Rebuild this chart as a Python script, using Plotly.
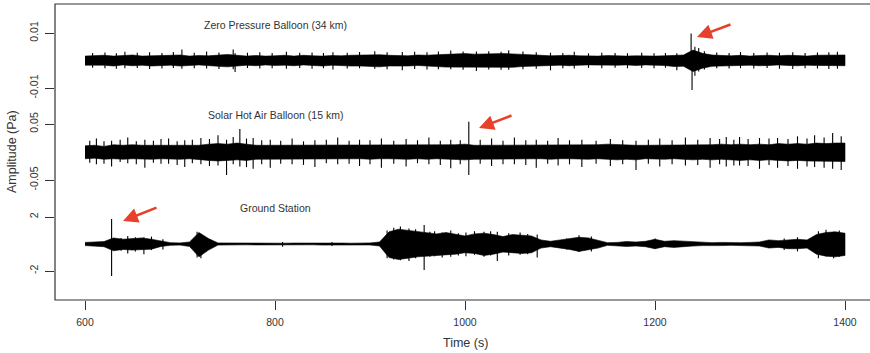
import plotly.graph_objects as go

# ---------------- data ----------------
times = list(range(600, 1401, 10))  # envelope sample times (s)

# Zero Pressure Balloon (34 km): envelope in mPa
zp_upper_mpa = [1.6, 1.7, 1.9, 1.6, 1.8, 2.0, 1.6, 1.7, 1.9, 2.1,
                2.0, 1.6, 1.8, 1.7, 2.0, 2.2, 1.9, 1.6, 1.8, 1.6,
                1.7, 1.9, 1.6, 1.9, 1.7, 1.6, 1.8, 1.7, 1.9, 2.0,
                2.2, 2.1, 1.9, 1.9, 1.7, 2.0, 1.9, 2.1, 2.3, 2.4,
                2.5, 2.3, 2.4, 2.5, 2.5, 2.4, 2.3, 2.1, 1.9, 1.7,
                1.8, 1.9, 1.7, 1.6, 1.6, 1.8, 1.6, 1.6, 1.7, 1.6,
                1.6, 1.7, 1.9, 2.0, 3.8, 2.6, 2.0, 1.8, 1.7, 1.9,
                1.6, 1.8, 1.9, 1.7, 1.9, 1.8, 1.6, 1.9, 1.9, 2.0,
                2.0]
zp_lower_mpa = [-1.7, -1.8, -1.7, -2.0, -1.6, -1.9, -1.7, -2.0, -1.8, -1.7,
                -2.0, -1.8, -1.6, -1.9, -2.1, -2.3, -2.0, -1.7, -1.9, -1.6,
                -1.8, -1.7, -1.9, -1.6, -1.8, -2.0, -1.7, -1.9, -2.0, -2.0,
                -2.1, -2.3, -2.0, -1.9, -2.0, -1.8, -2.0, -2.2, -2.4, -2.3,
                -2.5, -2.5, -2.3, -2.4, -2.5, -2.5, -2.2, -2.0, -1.9, -1.8,
                -1.7, -1.9, -1.7, -1.6, -1.7, -1.6, -1.7, -1.6, -1.8, -1.6,
                -1.7, -1.8, -2.2, -2.1, -4.0, -2.8, -2.1, -1.9, -1.7, -1.8,
                -1.7, -1.9, -1.8, -1.6, -1.8, -1.9, -1.7, -1.8, -2.0, -1.9,
                -1.9]
zp_spike_t = [608, 621, 633, 642, 655, 668, 681, 693, 702, 715,
              728, 741, 756, 758, 771, 784, 797, 812, 826, 839,
              851, 861, 876, 889, 905, 918, 934, 947, 960, 972,
              985, 998, 1012, 1025, 1038, 1046, 1061, 1075, 1090, 1103,
              1115, 1130, 1144, 1158, 1171, 1186, 1199, 1211, 1223, 1238,
              1239, 1242, 1246, 1252, 1265, 1278, 1290, 1304, 1318, 1331,
              1345, 1358, 1371, 1383, 1392]
zp_spike_hi_mpa = [2.7, 2.9, 2.6, 3.2, 2.8, 3.0, 2.7, 3.1, 4.0, 2.8,
                   3.3, 2.9, 4.0, 2.6, 2.8, 3.0, 2.7, 3.2, 2.8, 2.9,
                   2.7, 3.0, 2.8, 3.1, 3.4, 3.0, 3.1, 3.2, 3.0, 3.3,
                   3.6, 3.3, 3.3, 3.4, 3.2, 3.7, 3.3, 3.0, 2.8, 2.7,
                   3.2, 2.6, 2.8, 2.7, 2.6, 2.8, 2.6, 2.7, 2.6, 9.8,
                   3.0, 5.0, 4.5, 3.4, 2.9, 2.7, 3.1, 2.7, 2.9, 2.8,
                   3.0, 2.7, 2.9, 3.0, 3.2]
zp_spike_lo_mpa = [-2.6, -2.8, -3.0, -2.8, -2.7, -3.1, -2.9, -2.7, -3.0, -2.8,
                   -2.9, -3.1, -3.2, -4.2, -2.7, -2.9, -2.8, -3.0, -2.7, -3.0,
                   -2.8, -3.3, -2.9, -2.8, -3.0, -3.2, -3.5, -3.1, -3.3, -3.2,
                   -3.2, -3.4, -3.8, -3.3, -3.4, -3.4, -3.2, -3.0, -3.6, -2.8,
                   -2.9, -2.7, -2.8, -2.6, -2.8, -2.7, -2.8, -2.6, -3.5, -3.0,
                   -10.7, -5.5, -4.0, -3.3, -2.8, -2.9, -2.8, -2.9, -2.7, -3.0,
                   -3.1, -2.8, -2.9, -3.1, -3.0]

# Solar Hot Air Balloon (15 km): envelope in mPa
sh_upper_mpa = [11, 12, 10, 13, 12, 13, 12, 12, 13, 12,
                12, 13, 12, 14, 15, 14, 16, 14, 12, 12,
                12, 12, 13, 12, 12, 12, 13, 12, 12, 13,
                12, 12, 12, 13, 12, 12, 12, 13, 12, 13,
                14, 12, 12, 12, 13, 12, 12, 12, 13, 12,
                12, 12, 13, 12, 13, 14, 13, 12, 12, 12,
                12, 12, 13, 12, 13, 12, 13, 14, 13, 14,
                13, 14, 13, 15, 14, 15, 14, 16, 15, 16,
                16]
sh_lower_mpa = [-12, -11, -13, -12, -13, -12, -12, -13, -12, -12,
                -13, -12, -13, -15, -16, -15, -14, -15, -13, -12,
                -12, -12, -12, -13, -12, -12, -12, -13, -12, -12,
                -13, -12, -12, -12, -13, -12, -13, -12, -12, -13,
                -14, -13, -12, -12, -12, -13, -12, -12, -12, -13,
                -12, -12, -12, -13, -12, -13, -14, -13, -14, -12,
                -12, -13, -12, -13, -14, -13, -14, -13, -14, -15,
                -14, -15, -14, -15, -16, -15, -16, -17, -16, -17,
                -17]
sh_spike_t = [605, 612, 620, 628, 637, 645, 654, 663, 672, 680,
              688, 697, 705, 713, 722, 731, 740, 749, 756, 763,
              770, 777, 786, 795, 806, 818, 830, 842, 854, 866,
              878, 889, 900, 912, 925, 938, 950, 962, 974, 985,
              995, 1004, 1016, 1028, 1040, 1052, 1064, 1075, 1087, 1098,
              1110, 1123, 1138, 1153, 1166, 1180, 1193, 1205, 1218, 1232,
              1245, 1258, 1268, 1275, 1283, 1289, 1298, 1310, 1320, 1329,
              1340, 1350, 1360, 1368, 1378, 1387, 1396]
sh_spike_hi_mpa = [20, 24, 19, 20, 22, 26, 19, 22, 20, 23,
                   24, 19, 21, 22, 25, 23, 30, 22, 27, 41,
                   24, 25, 21, 22, 20, 24, 19, 21, 22, 26,
                   20, 22, 21, 24, 20, 23, 21, 26, 20, 22,
                   21, 54, 22, 24, 20, 26, 21, 22, 20, 25,
                   21, 22, 20, 23, 21, 20, 22, 24, 21, 26,
                   22, 25, 23, 27, 22, 27, 23, 25, 24, 25,
                   23, 28, 24, 30, 26, 34, 28]
sh_spike_lo_mpa = [-19, -22, -21, -26, -18, -20, -22, -28, -19, -21,
                   -21, -23, -27, -20, -22, -25, -24, -41, -22, -26,
                   -27, -30, -22, -28, -21, -22, -23, -27, -20, -22,
                   -21, -25, -22, -28, -21, -26, -20, -22, -23, -29,
                   -22, -41, -21, -25, -22, -22, -23, -28, -21, -24,
                   -22, -27, -21, -25, -22, -32, -21, -26, -22, -24,
                   -23, -28, -22, -26, -24, -24, -25, -30, -23, -28,
                   -25, -30, -26, -27, -28, -30, -32]

# Ground Station: envelope in Pa
gs_upper = [0.12, 0.15, 0.18, 0.45, 0.35, 0.40, 0.45, 0.35, 0.20, 0.10,
            0.08, 0.15, 0.85, 0.40, 0.08, 0.07, 0.08, 0.07, 0.06, 0.08,
            0.07, 0.06, 0.07, 0.08, 0.06, 0.07, 0.08, 0.07, 0.06, 0.07,
            0.08, 0.15, 0.90, 1.10, 1.00, 0.95, 0.80, 0.75, 0.85, 0.70,
            0.60, 0.75, 0.80, 0.70, 0.55, 0.70, 0.65, 0.60, 0.30, 0.20,
            0.30, 0.40, 0.50, 0.45, 0.30, 0.10, 0.12, 0.18, 0.15, 0.20,
            0.35, 0.20, 0.25, 0.20, 0.15, 0.12, 0.10, 0.12, 0.10, 0.10,
            0.12, 0.15, 0.30, 0.25, 0.30, 0.35, 0.30, 0.70, 0.85, 0.90,
            0.80]
gs_lower = [-0.12, -0.14, -0.20, -0.50, -0.40, -0.45, -0.40, -0.38, -0.18, -0.10,
            -0.08, -0.18, -0.95, -0.45, -0.08, -0.07, -0.08, -0.06, -0.07, -0.08,
            -0.06, -0.07, -0.08, -0.07, -0.06, -0.08, -0.07, -0.06, -0.07, -0.08,
            -0.07, -0.15, -1.00, -1.15, -1.05, -0.95, -0.85, -0.80, -0.80, -0.75,
            -0.65, -0.70, -0.85, -0.75, -0.60, -0.65, -0.70, -0.65, -0.30, -0.20,
            -0.30, -0.40, -0.55, -0.45, -0.30, -0.10, -0.12, -0.18, -0.15, -0.20,
            -0.35, -0.20, -0.25, -0.20, -0.15, -0.12, -0.10, -0.12, -0.10, -0.10,
            -0.12, -0.15, -0.30, -0.25, -0.35, -0.35, -0.30, -0.75, -0.90, -0.95,
            -0.85]
gs_spike_t = [628, 638, 645, 653, 662, 670, 682, 718, 722, 808, 860,
              918, 925, 932, 941, 948, 957, 963, 968, 976, 985, 993, 1001, 1010,
              1020, 1027, 1034, 1046, 1058, 1066, 1076, 1107, 1120, 1133, 1200,
              1336, 1350, 1372, 1380, 1388, 1394]
gs_spike_hi = [1.85, 0.45, 0.60, 0.50, 0.50, 0.55, 0.35, 0.90, 0.70, 0.15, 0.15,
               1.00, 1.20, 1.30, 1.15, 1.10, 1.40, 0.90, 0.95, 0.85, 1.00, 0.80, 0.85, 0.95,
               0.90, 0.95, 0.90, 0.80, 0.85, 0.75, 0.70, 0.40, 0.65, 0.55, 0.40,
               0.40, 0.50, 0.95, 1.05, 0.90, 1.00]
gs_spike_lo = [-2.37, -0.50, -0.70, -0.55, -0.75, -0.45, -0.40, -1.00, -1.05, -0.20, -0.15,
               -1.05, -1.15, -1.20, -1.25, -1.05, -1.93, -0.95, -0.90, -1.00, -0.95, -0.85, -0.90, -0.80,
               -0.95, -0.85, -1.26, -0.85, -0.80, -0.75, -1.00, -0.40, -0.60, -0.55, -0.35,
               -0.45, -0.55, -1.05, -0.90, -1.05, -0.95]

labels = ["Zero Pressure Balloon (34 km)", "Solar Hot Air Balloon (15 km)", "Ground Station"]
y_tickvals = [[-0.01, 0.01], [-0.05, 0.05], [-2, 2]]
y_ticktext = [["-0.01", "0.01"], ["-0.05", "0.05"], ["-2", "2"]]
x_tickvals = [600, 800, 1000, 1200, 1400]

def mpa(vals):
    return [v / 1000 for v in vals]

# ---------------- layout geometry (pixels) ----------------
W, H = 870, 353
PL, PR, PT, PB = 55, 870, 4, 300          # plot box
X0_PX, X_PER_S = 85, 0.95                 # 600 s at 85 px, 0.95 px / s
PH = PB - PT

def px_to_xdata(px):
    return 600 + (px - X0_PX) / X_PER_S

def py_to_paper(py):
    return (PB - py) / PH

# (center px, px per unit, domain top px, domain bottom px)
panels = [(60.5, 27.5 / 0.01, 4, 118), (152, 28 / 0.05, 96, 206), (244, 27 / 2, 186, 300)]

FONT = "Liberation Sans, Arial, Helvetica, sans-serif"
TXT = "#333333"

fig = go.Figure()
series = [(mpa(zp_upper_mpa), mpa(zp_lower_mpa), zp_spike_t, mpa(zp_spike_hi_mpa), mpa(zp_spike_lo_mpa)),
          (mpa(sh_upper_mpa), mpa(sh_lower_mpa), sh_spike_t, mpa(sh_spike_hi_mpa), mpa(sh_spike_lo_mpa)),
          (gs_upper, gs_lower, gs_spike_t, gs_spike_hi, gs_spike_lo)]
yrefs = ["y", "y2", "y3"]
for i, (up, lo, st, sh, sl) in enumerate(series):
    fig.add_trace(go.Scatter(
        x=times + times[::-1], y=up + lo[::-1], mode="lines", fill="toself",
        fillcolor="black", line=dict(color="black", width=0.6), yaxis=yrefs[i],
        hoverinfo="skip", showlegend=False))
    sx, sy = [], []
    for t, h, l in zip(st, sh, sl):
        sx += [t, t, None]
        sy += [l, h, None]
    fig.add_trace(go.Scatter(
        x=sx, y=sy, mode="lines", line=dict(color="black", width=1.1),
        yaxis=yrefs[i], hoverinfo="skip", showlegend=False))

layout_axes = {}
for i, (c, ppu, top, bot) in enumerate(panels):
    name = "yaxis" if i == 0 else f"yaxis{i + 1}"
    layout_axes[name] = dict(
        domain=[py_to_paper(bot), py_to_paper(top)],
        range=[(c - bot) / ppu, (c - top) / ppu],
        tickvals=y_tickvals[i], ticktext=y_ticktext[i], tickangle=-90,
        ticks="outside", ticklen=9, tickcolor="#333", tickwidth=1,
        showline=False, showgrid=False, zeroline=False, anchor="x",
        tickfont=dict(family=FONT, size=10.5, color=TXT), ticklabelstandoff=3,
        fixedrange=True)

fig.update_layout(
    width=W, height=H, margin=dict(l=PL, r=W - PR, t=PT, b=H - PB),
    paper_bgcolor="white", plot_bgcolor="white",
    xaxis=dict(range=[px_to_xdata(PL), px_to_xdata(PR)], tickvals=x_tickvals,
               ticks="outside", ticklen=9, tickcolor="#333", showline=False,
               showgrid=False, zeroline=False, anchor="y3",
               tickfont=dict(family=FONT, size=10.5, color=TXT), ticklabelstandoff=3),
    **layout_axes)

# plot box (right edge lies outside the picture)
fig.add_shape(type="rect", xref="paper", yref="paper", x0=0, x1=1.02, y0=0, y1=1,
              line=dict(color="#333", width=1.2), layer="above")

label_y = [25, 115, 208]
for txt, ly in zip(labels, label_y):
    fig.add_annotation(x=800, xref="x", y=py_to_paper(ly), yref="paper", text=txt,
                       showarrow=False, font=dict(family=FONT, size=10.5, color=TXT),
                       xanchor="center", yanchor="middle")

# red arrows pointing at the events
heads = [(697, 37), (479, 128), (123, 221)]
tails = [(732, 24), (513, 115), (158, 207)]
for (hx, hy), (tx, ty) in zip(heads, tails):
    fig.add_annotation(x=px_to_xdata(hx), xref="x", y=py_to_paper(hy), yref="paper",
                       ax=tx - hx, ay=ty - hy, text="", showarrow=True,
                       arrowhead=2, arrowsize=1.15, arrowwidth=2.6, arrowcolor="#e8402a")

fig.add_annotation(x=1000, xref="x", y=py_to_paper(343), yref="paper", text="Time (s)",
                   showarrow=False, font=dict(family=FONT, size=12.5, color=TXT),
                   xanchor="center", yanchor="middle")
fig.add_annotation(x=(12 - PL) / (PR - PL), xref="paper", y=py_to_paper(152), yref="paper",
                   text="Amplitude (Pa)", textangle=-90, showarrow=False,
                   font=dict(family=FONT, size=12.5, color=TXT),
                   xanchor="center", yanchor="middle")

fig.write_html("out.html", config={"displayModeBar": False},
               post_script="document.body.style.margin='0';document.body.style.overflow='hidden';")
